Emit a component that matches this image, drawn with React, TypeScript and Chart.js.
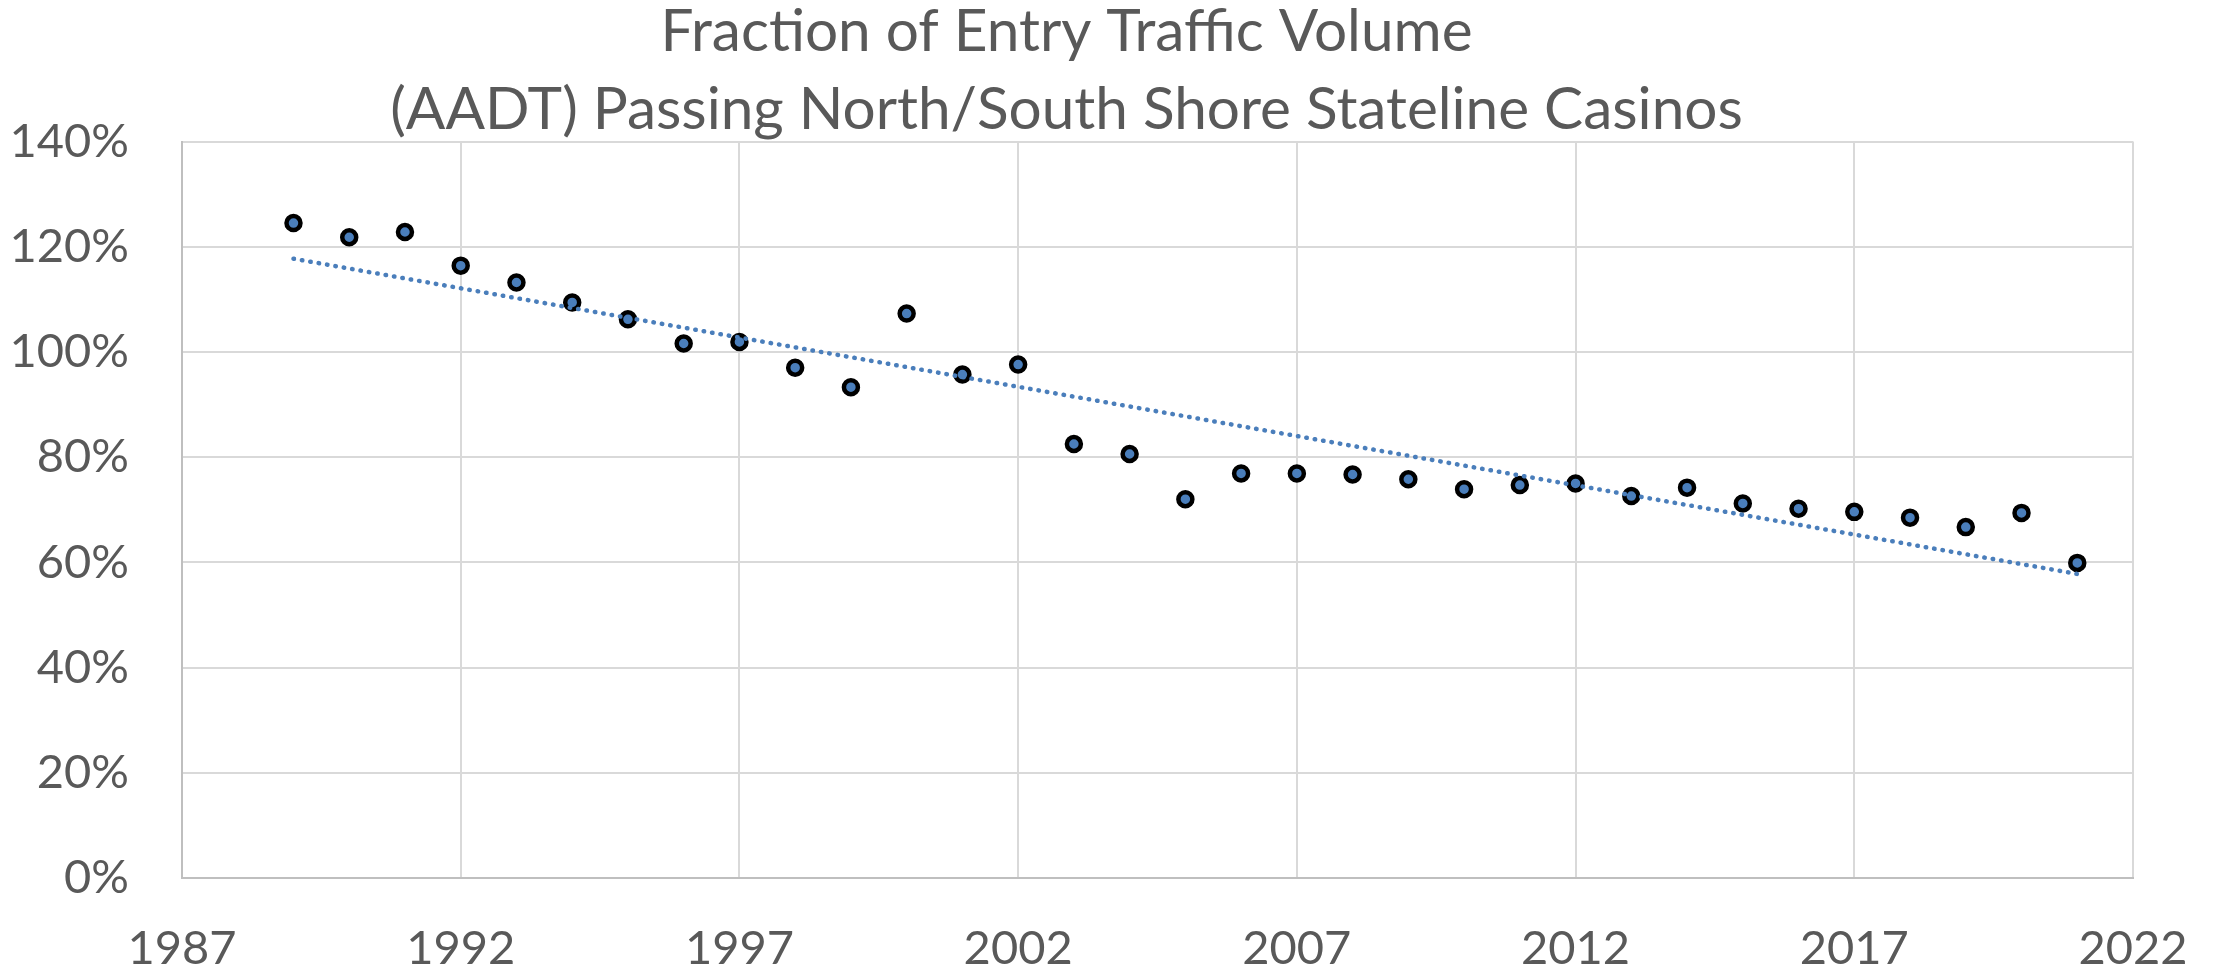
import React, { useEffect, useRef } from 'react';
import { Chart, registerables } from 'chart.js';

Chart.register(...registerables);

// ---- Data ----
const years = [
  1989, 1990, 1991, 1992, 1993, 1994, 1995, 1996, 1997, 1998, 1999,
  2000, 2001, 2002, 2003, 2004, 2005, 2006, 2007, 2008, 2009, 2010,
  2011, 2012, 2013, 2014, 2015, 2016, 2017, 2018, 2019, 2020, 2021,
];
const fractionPct = [
  124.5, 121.8, 122.8, 116.4, 113.2, 109.4, 106.2, 101.6, 101.9, 97.0, 93.3,
  107.3, 95.7, 97.6, 82.5, 80.6, 72.0, 76.9, 76.9, 76.7, 75.8, 73.9,
  74.7, 75.0, 72.6, 74.2, 71.2, 70.2, 69.6, 68.5, 66.7, 69.4, 59.9,
];
const titleLines = [
  'Fraction of Entry Traffic Volume',
  '(AADT) Passing North/South Shore Stateline Casinos',
];
const xTickValues = [1987, 1992, 1997, 2002, 2007, 2012, 2017, 2022];
const yTickValues = [0, 20, 40, 60, 80, 100, 120, 140];

// ---- Styles ----
const FONT = 'Lato, "Liberation Sans", sans-serif';
const TEXT = '#595959';
const GRID = '#D9D9D9';
const AXIS = '#BFBFBF';
const MARKER_FILL = '#4A7EBB';
const TREND = '#4A7EBB';

function linearFit(xs: number[], ys: number[]) {
  const n = xs.length;
  const mx = xs.reduce((a, b) => a + b, 0) / n;
  const my = ys.reduce((a, b) => a + b, 0) / n;
  let sxy = 0;
  let sxx = 0;
  for (let i = 0; i < n; i++) {
    sxy += (xs[i] - mx) * (ys[i] - my);
    sxx += (xs[i] - mx) * (xs[i] - mx);
  }
  const slope = sxy / sxx;
  return { slope, intercept: my - slope * mx };
}

export default function App() {
  const canvasRef = useRef<HTMLCanvasElement | null>(null);

  useEffect(() => {
    const canvas = canvasRef.current;
    if (!canvas) return;

    const points = years.map((x, i) => ({ x, y: fractionPct[i] }));
    const fit = linearFit(years, fractionPct);
    const x0 = years[0];
    const x1 = years[years.length - 1];
    const trend = [
      { x: x0, y: fit.intercept + fit.slope * x0 },
      { x: x1, y: fit.intercept + fit.slope * x1 },
    ];

    const chart = new Chart(canvas, {
      type: 'scatter',
      data: {
        datasets: [
          {
            label: 'Trend',
            data: trend,
            showLine: true,
            borderColor: TREND,
            borderWidth: 4.5,
            borderDash: [0.5, 8],
            borderCapStyle: 'round',
            pointRadius: 0,
            pointHoverRadius: 0,
            order: 0,
          },
          {
            label: 'Fraction',
            data: points,
            backgroundColor: MARKER_FILL,
            borderColor: '#000000',
            borderWidth: 4.5,
            pointRadius: 7,
            pointHoverRadius: 7,
            order: 1,
          },
        ],
      },
      options: {
        responsive: false,
        animation: false,
        layout: { padding: { left: 0, right: 84, top: 0, bottom: 0 } },
        plugins: {
          legend: { display: false },
          tooltip: { enabled: false },
          title: {
            display: true,
            text: titleLines,
            color: TEXT,
            font: { family: FONT, size: 58.5, weight: 'normal', lineHeight: '78px' },
            padding: { top: -7, bottom: -7.5 },
          },
        },
        scales: {
          x: {
            type: 'linear',
            min: xTickValues[0],
            max: xTickValues[xTickValues.length - 1],
            afterFit: (scale: any) => {
              scale.height = 92;
            },
            ticks: {
              stepSize: xTickValues[1] - xTickValues[0],
              color: TEXT,
              font: { family: FONT, size: 47 },
              padding: 0,
              callback: (v: any) => String(v),
            },
            grid: {
              color: GRID,
              lineWidth: 2,
              drawTicks: true,
              tickLength: 42.5,
              tickColor: 'rgba(0,0,0,0)',
            },
            border: { color: AXIS, width: 2 },
          },
          y: {
            min: yTickValues[0],
            max: yTickValues[yTickValues.length - 1],
            afterFit: (scale: any) => {
              scale.width = 182;
            },
            ticks: {
              stepSize: yTickValues[1] - yTickValues[0],
              color: TEXT,
              font: { family: FONT, size: 47 },
              padding: 53,
              callback: (v: any) => `${v}%`,
            },
            grid: { color: GRID, lineWidth: 2, drawTicks: false },
            border: { color: AXIS, width: 2 },
          },
        },
      },
    });

    return () => chart.destroy();
  }, []);

  return (
    <div style={{ position: 'fixed', left: 0, top: 0, width: 2217, height: 970, background: '#ffffff' }}>
      <canvas ref={canvasRef} width={2217} height={970} style={{ width: 2217, height: 970, display: 'block' }} />
    </div>
  );
}
